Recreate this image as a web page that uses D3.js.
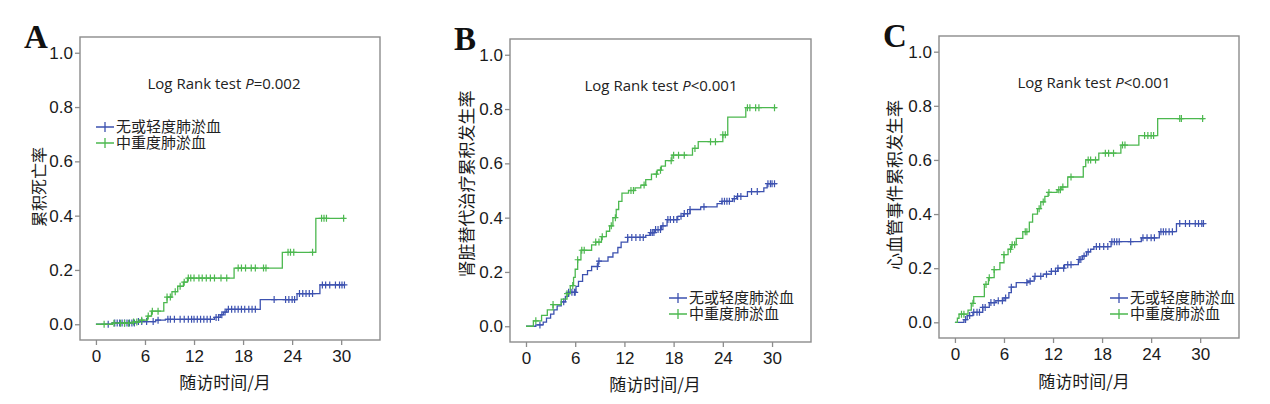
<!DOCTYPE html>
<html>
<head>
<meta charset="utf-8">
<script src="https://cdn.jsdelivr.net/npm/d3@7"></script>
<style>
  body { margin: 0; background: #fff; }
</style>
</head>
<body>
<div id="chart"></div>
<script>
// series: [time, cumulative rate from that time on]
const aMildSteps = [[0,0],[2.0,0.005],[4.8,0.01],[7.3,0.015],[8.5,0.018],[14.5,0.025],[15.2,0.035],[15.6,0.045],[16.0,0.055],[20.1,0.091],[24.6,0.113],[27.4,0.145]];
const aMildEnd = 30.5;
const aMildCensor = [1.5,2.3,2.6,2.9,3.2,3.5,3.8,4.1,4.4,4.7,5.2,5.6,6.2,7.0,7.6,8.8,9.1,9.6,10.3,10.8,11.3,11.7,12.0,12.4,12.8,13.2,13.6,14.0,14.7,15.0,15.4,15.8,16.2,16.6,17.0,17.4,17.8,18.2,18.7,19.1,19.5,21.8,23.2,23.6,24.0,24.3,24.9,25.3,25.7,26.1,26.5,27.7,28.1,28.6,29.3,29.8,30.1,30.4];
const aSevereSteps = [[0,0],[2.0,0.004],[4.5,0.008],[5.3,0.015],[6.3,0.03],[6.8,0.048],[8.3,0.08],[8.7,0.10],[9.3,0.12],[10.0,0.14],[10.7,0.155],[11.2,0.17],[16.9,0.207],[22.8,0.265],[26.9,0.39]];
const aSevereEnd = 30.4;
const aSevereCensor = [1.0,2.2,3.0,3.5,4.0,4.6,5.0,5.6,6.4,6.9,7.6,8.7,9.1,9.7,10.3,10.8,11.3,11.6,12.0,12.6,13.0,13.5,14.0,14.5,15.3,16.0,17.4,17.8,18.3,19.0,19.5,20.5,20.8,23.5,23.8,24.2,26.5,27.6,27.9,28.2,30.3];

const bMildSteps = [[0,0],[1.2,0.005],[2.1,0.015],[2.5,0.03],[3.0,0.045],[3.4,0.06],[3.8,0.075],[4.3,0.09],[4.8,0.11],[5.2,0.125],[6.1,0.147],[6.4,0.165],[6.9,0.19],[7.5,0.205],[8.0,0.22],[8.8,0.24],[10.0,0.255],[10.6,0.27],[11.2,0.29],[11.6,0.31],[12.4,0.327],[14.6,0.335],[15.1,0.345],[15.7,0.356],[16.5,0.37],[17.2,0.393],[18.5,0.405],[19.2,0.415],[20.0,0.43],[21.3,0.44],[23.3,0.452],[23.9,0.46],[25.2,0.47],[25.7,0.478],[27.0,0.496],[29.0,0.51],[29.4,0.525]];
const bMildEnd = 30.6;
const bMildCensor = [1.7,4.6,5.2,5.6,5.9,6.0,8.7,8.9,12.4,12.9,13.4,13.9,14.3,15.2,15.4,15.6,15.8,16.1,16.4,16.7,17.3,17.6,18.0,18.4,18.9,19.3,19.7,20.0,21.7,23.9,24.2,24.5,24.8,25.4,25.8,26.2,27.5,28.2,29.5,29.8,30.0,30.3];
const bSevereSteps = [[0,0],[0.9,0.02],[1.9,0.04],[2.6,0.06],[3.3,0.08],[4.3,0.10],[5.0,0.12],[5.4,0.15],[5.8,0.18],[6.0,0.21],[6.3,0.245],[6.7,0.28],[8.0,0.30],[8.5,0.31],[9.2,0.33],[9.8,0.35],[10.2,0.37],[10.6,0.40],[11.0,0.43],[11.3,0.46],[11.7,0.49],[12.5,0.50],[13.3,0.51],[14.0,0.52],[14.6,0.54],[15.3,0.56],[16.0,0.575],[16.5,0.59],[17.0,0.61],[17.8,0.63],[20.3,0.655],[21.0,0.68],[24.0,0.705],[24.6,0.77],[26.8,0.805]];
const bSevereEnd = 30.6;
const bSevereCensor = [1.2,3.3,5.0,5.7,6.3,6.8,7.1,8.5,8.9,9.3,10.4,10.9,12.8,13.1,14.4,15.9,16.4,17.7,18.0,18.6,19.3,20.6,22.5,23.1,24.0,24.3,27.0,27.3,28.0,28.4,30.3];

const cMildSteps = [[0,0],[1.1,0.01],[1.5,0.025],[2.2,0.037],[3.4,0.055],[4.2,0.073],[5.0,0.08],[6.0,0.09],[6.6,0.11],[6.9,0.13],[7.5,0.147],[8.9,0.152],[9.7,0.17],[10.8,0.178],[11.8,0.188],[12.6,0.20],[13.4,0.213],[15.1,0.232],[15.6,0.245],[16.1,0.26],[16.6,0.27],[17.0,0.28],[19.1,0.298],[22.8,0.312],[25.0,0.335],[27.1,0.365]];
const cMildEnd = 30.5;
const cMildCensor = [1.3,1.8,2.3,2.7,3.0,3.4,3.7,4.4,4.8,5.3,5.8,6.2,6.9,8.8,9.2,9.8,10.5,11.2,11.8,12.3,12.6,13.3,13.8,14.2,15.2,15.4,15.8,16.3,17.3,17.7,18.2,18.7,19.2,19.5,19.8,20.1,21.5,23.0,23.5,24.0,24.4,25.2,25.5,25.8,26.2,26.6,27.5,28.2,28.7,29.4,29.8,30.2,30.4];
const cSevereSteps = [[0,0],[0.3,0.015],[0.5,0.03],[1.6,0.045],[2.0,0.07],[2.3,0.095],[3.6,0.14],[4.1,0.165],[4.8,0.195],[5.5,0.22],[6.0,0.25],[6.5,0.27],[6.9,0.287],[7.5,0.31],[8.3,0.335],[9.1,0.37],[9.5,0.40],[10.1,0.42],[10.5,0.445],[11.0,0.465],[11.4,0.48],[12.5,0.49],[13.0,0.50],[13.8,0.537],[15.7,0.575],[16.0,0.60],[17.6,0.625],[20.3,0.655],[22.5,0.69],[24.8,0.753]];
const cSevereEnd = 30.5;
const cSevereCensor = [0.8,1.1,2.2,3.8,4.2,4.8,6.0,6.8,7.0,7.3,8.6,8.8,10.3,10.8,11.5,12.7,12.9,13.2,14.2,16.3,16.6,17.2,18.4,18.8,19.4,20.5,20.8,23.2,23.6,24.0,24.3,27.5,27.7,30.3];

const xTicks = [0, 6, 12, 18, 24, 30];
const yTicks = [0, 0.2, 0.4, 0.6, 0.8, 1.0];
const groupNames = ["无或轻度肺淤血", "中重度肺淤血"];
const xTitle = "随访时间/月";

const blue = "#3d52b0", green = "#4cb84f", frameColor = "#8c8c8c";

// panel layout
const panels = [
    {letter: "A", left: 80, top: 37, w: 300, h: 303, yTitle: "累积死亡率", yTitleSize: 16, yTitleX: 38, yTitleY: 187,
     pText: "=0.002", pX: 224, legend: [96, 127], mild: [aMildSteps, aMildEnd, aMildCensor], severe: [aSevereSteps, aSevereEnd, aSevereCensor]},
    {letter: "B", left: 510, top: 39, w: 301, h: 303, yTitle: "肾脏替代治疗累积发生率", yTitleSize: 17, yTitleX: 465, yTitleY: 184,
     pText: "<0.001", pX: 661, legend: [669, 298], mild: [bMildSteps, bMildEnd, bMildCensor], severe: [bSevereSteps, bSevereEnd, bSevereCensor]},
    {letter: "C", left: 939, top: 36, w: 300, h: 302, yTitle: "心血管事件累积发生率", yTitleSize: 17, yTitleX: 893, yTitleY: 185,
     pText: "<0.001", pX: 1094, legend: [1110, 298], mild: [cMildSteps, cMildEnd, cMildCensor], severe: [cSevereSteps, cSevereEnd, cSevereCensor]}
];

const svg = d3.select("#chart").append("svg")
    .attr("width", 1270)
    .attr("height", 404);

const stepValue = (steps, t) => {
    let v = 0;
    steps.forEach(s => { if (s[0] <= t) v = s[1]; });
    return v;
}

const drawCurve = (g, series, x, y, color) => {
    const [steps, end, censor] = series;
    const pts = steps.concat([[end, steps[steps.length - 1][1]]]);
    const line = d3.line()
        .x(d => x(d[0]))
        .y(d => y(d[1]))
        .curve(d3.curveStepAfter);
    g.append("path")
        .datum(pts)
        .attr("d", line)
        .attr("fill", "none")
        .attr("stroke", color)
        .attr("stroke-width", 1.3);
    g.selectAll(null)
        .data(censor)
        .enter().append("path")
        .attr("d", d => {
            const cx = x(d), cy = y(stepValue(steps, d));
            return "M" + (cx - 3) + "," + cy + "H" + (cx + 3) + "M" + cx + "," + (cy - 3.5) + "V" + (cy + 3.5);
        })
        .attr("stroke", color)
        .attr("stroke-width", 1.2);
}

panels.forEach(p => {
    const x = d3.scaleLinear().domain([-1.95, 34.75]).range([p.left, p.left + p.w]);
    const y = d3.scaleLinear().domain([-0.058, 1.058]).range([p.top + p.h, p.top]);
    const g = svg.append("g");

    // frame
    g.append("rect")
        .attr("x", p.left).attr("y", p.top)
        .attr("width", p.w).attr("height", p.h)
        .attr("fill", "none").attr("stroke", frameColor).attr("stroke-width", 1.4);

    // axes
    const ya = g.append("g")
        .attr("transform", "translate(" + p.left + ",0)")
        .call(d3.axisLeft(y).tickValues(yTicks).tickFormat(d3.format(".1f")).tickSize(5).tickPadding(2));
    const xa = g.append("g")
        .attr("transform", "translate(0," + (p.top + p.h) + ")")
        .call(d3.axisBottom(x).tickValues(xTicks).tickSize(5).tickPadding(5));
    [ya, xa].forEach(a => {
        a.select(".domain").remove();
        a.selectAll("line").attr("stroke", frameColor).attr("stroke-width", 1.3);
        a.selectAll("text").attr("fill", "#1a1a1a")
            .style("font-family", "'Liberation Sans', Arial, sans-serif").style("font-size", "17px");
    });

    // curves
    drawCurve(g, p.mild, x, y, blue);
    drawCurve(g, p.severe, x, y, green);

    // titles
    g.append("text")
        .attr("x", p.left + 145).attr("y", p.top + 352)
        .attr("text-anchor", "middle")
        .style("font-family", "'Noto Sans CJK SC', sans-serif").style("font-size", "17px").attr("fill", "#1a1a1a")
        .text(xTitle);
    g.append("text")
        .attr("transform", "translate(" + p.yTitleX + "," + p.yTitleY + ") rotate(-90)")
        .attr("text-anchor", "middle").attr("dominant-baseline", "central")
        .style("font-family", "'Noto Sans CJK SC', sans-serif").style("font-size", p.yTitleSize + "px").attr("fill", "#1a1a1a")
        .text(p.yTitle);

    // panel letter
    g.append("text")
        .attr("x", p.left - 56).attr("y", p.top + 11)
        .style("font-family", "'Liberation Serif', serif").style("font-weight", "bold").style("font-size", "33px")
        .attr("fill", "#111")
        .text(p.letter);

    // log rank
    const lr = g.append("text")
        .attr("x", p.pX).attr("y", p.top + 52)
        .attr("text-anchor", "middle")
        .style("font-family", "'Open Sans', sans-serif").style("font-size", "15px").attr("fill", "#222");
    lr.append("tspan").text("Log Rank test ");
    lr.append("tspan").style("font-style", "italic").text("P");
    lr.append("tspan").text(p.pText);

    // handmade legend
    const lx = p.legend[0], ly = p.legend[1];
    [blue, green].forEach((c, i) => {
        const yy = ly + i * 16;
        g.append("path")
            .attr("d", "M" + lx + "," + yy + "H" + (lx + 18) + "M" + (lx + 9) + "," + (yy - 5) + "V" + (yy + 5))
            .attr("stroke", c).attr("stroke-width", 1.3);
    });
    const lt = g.append("text")
        .attr("y", ly + 5)
        .style("font-family", "'Noto Sans CJK SC', sans-serif").style("font-size", "15px").attr("fill", "#222");
    groupNames.forEach((n, i) => {
        lt.append("tspan").attr("x", lx + 20).attr("dy", i === 0 ? 0 : 16).text(n);
    });
});
</script>
</body>
</html>
